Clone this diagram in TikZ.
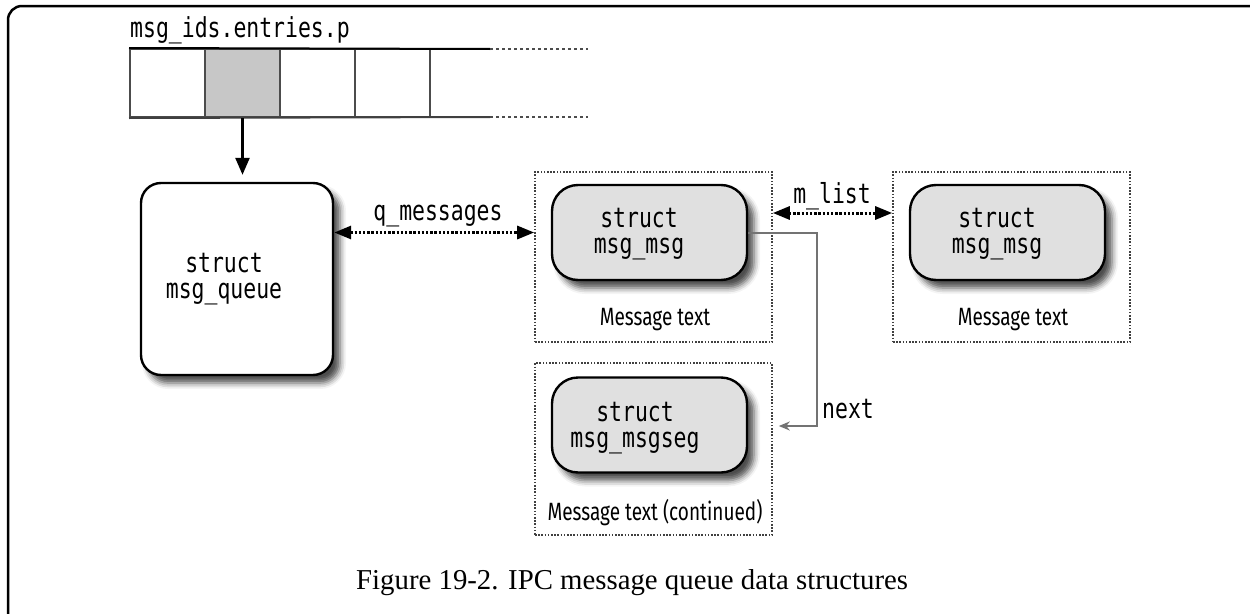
\documentclass[tikz,border=0pt]{standalone}
\usepackage{fontspec}
\setmainfont{Liberation Serif}
\newfontfamily\monof[FakeStretch=0.78]{DejaVu Sans Mono}
\newfontfamily\condf[FakeStretch=0.76]{Fira Sans}
\usetikzlibrary{arrows.meta,shadows.blur,calc}
\tikzset{
  mono/.style={font=\monof\fontsize{27.5}{26}\selectfont, inner sep=0pt, align=center},
  cond/.style={font=\condf\fontsize{25}{27}\selectfont, inner sep=0pt},
  myshadow/.style={blur shadow={shadow xshift=7pt, shadow yshift=-8pt, shadow blur radius=6pt, shadow opacity=70}},
  qbox/.style={draw, line width=2.4pt, rounded corners=20pt, fill=white, minimum width=192pt, minimum height=192pt, inner sep=0pt, myshadow},
  mbox/.style={draw, line width=2.4pt, rounded corners=26pt, fill=black!12, minimum width=195pt, minimum height=95pt, inner sep=0pt, myshadow},
  dframe/.style={draw=black!75, line width=1.6pt, dash pattern=on 1.6pt off 1.6pt, minimum width=237pt, inner sep=0pt},
  cell/.style={draw=black!70, line width=2pt, minimum width=75pt, minimum height=68pt, inner sep=0pt},
  dblarrow/.style={line width=3pt, dash pattern=on 2.4pt off 1.8pt, {Triangle[length=17pt,width=13pt]}-{Triangle[length=17pt,width=13pt]}},
  nextarrow/.style={draw=black!55, line width=2pt, -{Stealth[open,length=11pt,width=9pt,fill=white]}},
  downarrow/.style={line width=2.5pt, -{Triangle[length=17pt,width=14pt]}},
}
\begin{document}
\begin{tikzpicture}[x=1pt,y=-1pt]
\useasboundingbox (0,0) rectangle (1250,613);
% outer frame
\draw[line width=2.5pt, rounded corners=14pt] (8,620) -- (8,6) -- (1260,6);

% array
\node[mono, anchor=base west] (arrlabel) at (130,37) {msg\_ids.entries.p};
\node[cell] (c1) at (167.5,83) {};
\node[cell, fill=black!22] (c2) at (242.5,83) {};
\node[cell] (c3) at (317.5,83) {};
\node[cell] (c4) at (392.5,83) {};
\coordinate (tEnd) at (490,49);
\coordinate (bEnd) at (490,117);
\coordinate (tDot) at (588,49);
\coordinate (bDot) at (588,117);
\draw[line width=2pt] (c1.north west) -- (tEnd);
\draw[line width=2pt, black!75] (c1.south west) -- (bEnd);
\draw[line width=2pt, black!70, dash pattern=on 3pt off 3pt] (tEnd) -- (tDot);
\draw[line width=2pt, black!70, dash pattern=on 3pt off 3pt] (bEnd) -- (bDot);

% queue
\node[qbox] (queue) at (237,279) {};
\node[mono] (queuetxt) at (224,279) {struct\\msg\_queue};
\draw[downarrow, shorten >=7pt] (c2.south) -- (c2.south |- queue.north);

% frames
\node[dframe, minimum height=170pt] (f1) at (653.5,257) {};
\node[dframe, minimum height=170pt] (f2) at (1011.5,257) {};
\node[dframe, minimum height=172pt] (f3) at (653.5,449) {};

% message boxes
\node[mbox] (msgA) at (649.5,232.5) {};
\node[mono] (msgAtxt) at (639,234) {struct\\msg\_msg};
\node[mbox] (msgB) at (1007.5,232.5) {};
\node[mono] (msgBtxt) at (997,234) {struct\\msg\_msg};
\node[mbox] (seg) at (649.5,425) {};
\node[mono] (segtxt) at (635,428) {struct\\msg\_msgseg};

\node[cond, anchor=base] (mtA) at (655,325) {Message text};
\node[cond, anchor=base] (mtB) at (1013,325) {Message text};
\node[cond, anchor=base] (mtC) at (655,520) {Message text (continued)};

% q_messages
\draw[dblarrow] (queue.east |- msgA.center) -- (f1.west |- msgA.center);
\node[mono, anchor=base] (qlbl) at (438,220) {q\_messages};

% m_list
\coordinate (ml) at (832,213);
\draw[dblarrow] (f1.east |- ml) -- (f2.west |- ml);
\node[mono, anchor=base] (mllbl) at (832,203) {m\_list};

% next
\coordinate (nx) at (817,426);
\draw[nextarrow] (msgA.east) -| (nx) -- ([xshift=6pt]f3.east |- nx);
\node[mono, anchor=base west] (nxlbl) at (822,418) {next};

% caption
\node[font=\fontsize{28.8}{31}\selectfont, inner sep=0pt, anchor=base west] (caption) at (356,589) {Figure 19-2. IPC message queue data structures};
\end{tikzpicture}
\end{document}
